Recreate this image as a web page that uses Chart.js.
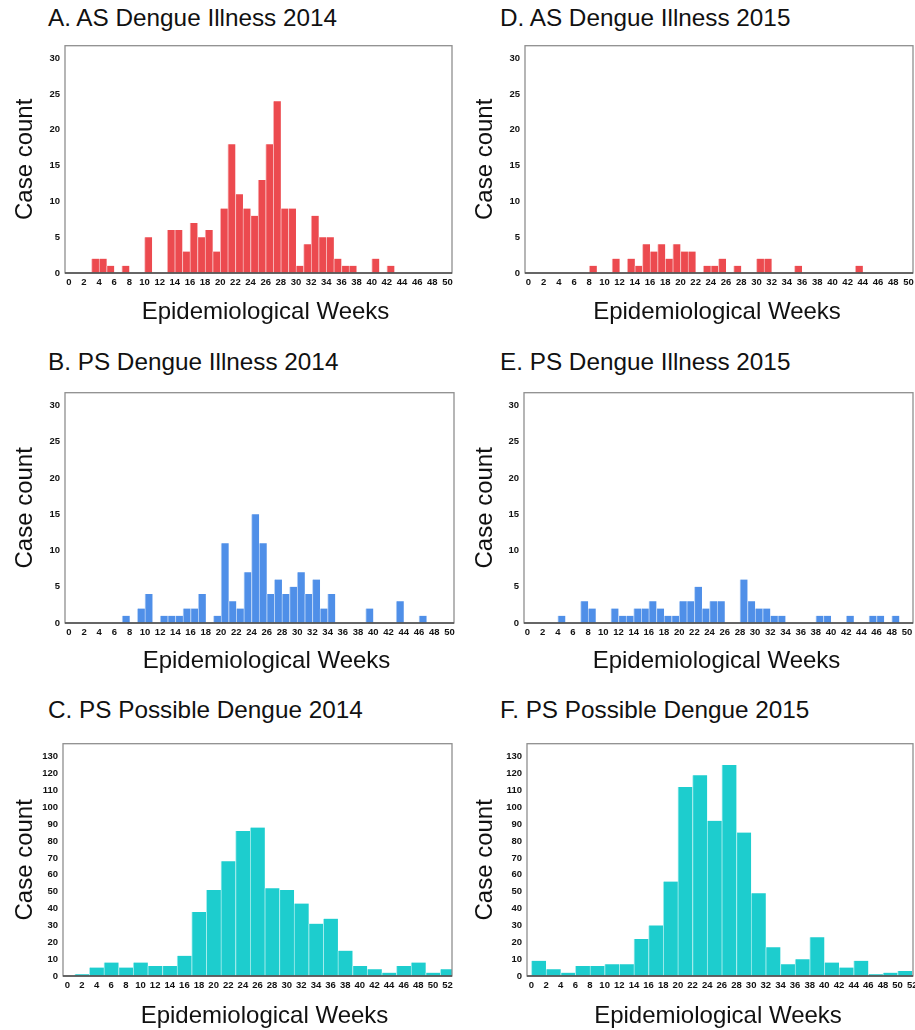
<!DOCTYPE html>
<html>
<head>
<meta charset="utf-8">
<script src="https://cdn.jsdelivr.net/npm/chart.js@4.4.0/dist/chart.umd.min.js"></script>
<style>
html, body { margin: 0; padding: 0; background: #fff; }
body { position: relative; width: 915px; height: 1030px; overflow: hidden; }
canvas { position: absolute; }
.ttl { position: absolute; font-family: "Liberation Sans", Arial, sans-serif; font-size: 24.3px;
       line-height: 28px; color: #111; white-space: nowrap; }
</style>
</head>
<body>
<script>
// weekly bins: bar i spans week i .. i+1
const weekStarts = [0,1,2,3,4,5,6,7,8,9,10,11,12,13,14,15,16,17,18,19,20,21,22,23,24,
  25,26,27,28,29,30,31,32,33,34,35,36,37,38,39,40,41,42,43,44,45,46,47,48,49];

const asIllness2014 = [0,0,0,2,2,1,0,1,0,0, 5,0,0,6,6,3,7,5,6,3, 9,18,11,9,8,13,18,24,9,9,
  1,4,8,5,5,2,1,1,0,0, 2,0,1,0,0,0,0,0,0,0];
const asIllness2015 = [0,0,0,0,0,0,0,0,1,0, 0,2,0,2,1,4,3,4,2,4, 3,3,0,1,1,2,0,1,0,0,
  2,2,0,0,0,1,0,0,0,0, 0,0,0,1,0,0,0,0,0,0];
const psIllness2014 = [0,0,0,0,0,0,0,1,0,2, 4,0,1,1,1,2,2,4,0,1, 11,3,2,7,15,11,4,6,4,5,
  7,4,6,2,4,0,0,0,0,2, 0,0,0,3,0,0,1,0,0,0];
const psIllness2015 = [0,0,0,0,1,0,0,3,2,0, 0,2,1,1,2,2,3,2,1,1, 3,3,5,2,3,3,0,0,6,3,
  2,2,1,1,0,0,0,0,1,1, 0,0,1,0,0,1,1,0,1,0];

// two-week bins, given by their centres
const possibleCentres2014 = [2,4,6,8,10,12,14,16,18,20,22,24,26,28,30,32,34,36,38,40,42,44,46,48,50,52];
const possible2014 = [1,5,8,5,8,6,6,12,38,51,68,86,88,52,51,43,31,34,15,6,4,2,6,8,2,4];
const possibleCentres2015 = [1,3,5,7,9,11,13,15,17,19,21,23,25,27,29,31,33,35,37,39,41,43,45,47,49,51];
const possible2015 = [9,4,2,6,6,7,7,22,30,56,112,119,92,125,85,49,17,7,10,23,8,5,9,1,2,3];

const RED = '#ec4a4f', BLUE = '#4f8fe8', TEAL = '#1dcdce';
const FONT = '"Liberation Sans", Arial, sans-serif';

const framePlugin = {
  id: 'frame',
  afterDatasetsDraw(chart) {
    const { ctx, chartArea: a } = chart;
    ctx.save();
    ctx.strokeStyle = '#8f8f8f';
    ctx.lineWidth = 1.3;
    ctx.strokeRect(a.left, a.top, a.right - a.left, a.bottom - a.top);
    ctx.strokeStyle = '#4d4d4d';
    ctx.lineWidth = 1.5;
    ctx.beginPath();
    ctx.moveTo(a.left, a.bottom);
    ctx.lineTo(a.right, a.bottom);
    ctx.stroke();
    ctx.restore();
  }
};

// x axis title, centred a little off the plot centre as in the figure
const xTitlePlugin = {
  id: 'xTitle',
  afterDraw(chart, args, opts) {
    const { ctx, chartArea: a } = chart;
    ctx.save();
    ctx.fillStyle = '#111';
    ctx.font = '24px ' + FONT;
    ctx.textAlign = 'center';
    ctx.textBaseline = 'middle';
    ctx.fillText(opts.text, (a.left + a.right) / 2 + opts.shift, opts.y);
    ctx.restore();
  }
};

function addTitle(text, x, y) {
  const d = document.createElement('div');
  d.className = 'ttl';
  d.style.left = x + 'px';
  d.style.top = y + 'px';
  d.textContent = text;
  document.body.appendChild(d);
}

function panel(p) {
  const cx = p.col === 0 ? 0 : 460;
  const cw = p.col === 0 ? 460 : 470;
  const cy = p.top - 8;
  const ch = p.xTitleY + 26 - cy;
  const yTitleX = p.col === 0 ? 25 : 485;

  const cv = document.createElement('canvas');
  cv.width = cw;
  cv.height = ch;
  cv.style.left = cx + 'px';
  cv.style.top = cy + 'px';
  cv.style.width = cw + 'px';
  cv.style.height = ch + 'px';
  document.body.appendChild(cv);

  new Chart(cv, {
    type: 'bar',
    data: {
      datasets: [{
        data: p.xs.map((x, i) => ({ x: x, y: p.ys[i] })),
        backgroundColor: p.color,
        borderColor: p.edge,
        borderWidth: { left: 1, right: 0, top: 0, bottom: 0 },
        borderSkipped: false,
        barPercentage: 1,
        categoryPercentage: 1,
        clip: 0
      }]
    },
    options: {
      responsive: false,
      animation: false,
      devicePixelRatio: 1,
      layout: { padding: { top: 8, left: 0, bottom: 0, right: cx + cw - p.right } },
      plugins: {
        legend: { display: false },
        tooltip: { enabled: false },
        xTitle: { text: 'Epidemiological Weeks', y: p.xTitleY + 1 - cy, shift: p.col === 0 ? 7 : -2 }
      },
      scales: {
        x: {
          type: 'linear',
          offset: false,
          min: p.xMin,
          max: p.xMax,
          grid: { display: false, drawTicks: false },
          border: { display: false },
          ticks: {
            stepSize: 2, includeBounds: false, autoSkip: false,
            maxRotation: 0, minRotation: 0, padding: 4,
            color: '#111', font: { family: FONT, size: 9.5, weight: 'bold' }
          },
          afterFit(s) { s.height = cy + ch - p.bottom; }
        },
        y: {
          min: 0,
          max: p.yMax,
          grid: { display: false, drawTicks: false },
          border: { display: false },
          ticks: {
            stepSize: p.yStep, includeBounds: false, padding: 5,
            color: '#111', font: { family: FONT, size: 9.5, weight: 'bold' }
          },
          title: {
            display: true, text: 'Case count', color: '#111',
            font: { family: FONT, size: 24, lineHeight: 1.2 },
            padding: { top: yTitleX - cx - 14.4, bottom: 0 }
          },
          afterFit(s) { s.width = p.left - cx; }
        }
      }
    },
    plugins: [framePlugin, xTitlePlugin]
  });
}

const weekCentres = weekStarts.map(w => w + 0.5);

addTitle('A. AS Dengue Illness 2014', 48, 4);
addTitle('D. AS Dengue Illness 2015', 500, 4);
addTitle('B. PS Dengue Illness 2014', 48, 348);
addTitle('E. PS Dengue Illness 2015', 500, 348);
addTitle('C. PS Possible Dengue 2014', 48, 696);
addTitle('F. PS Possible Dengue 2015', 500, 696);

panel({ col: 0, left: 65, right: 452, top: 43, bottom: 273, xTitleY: 311,
  xs: weekCentres, ys: asIllness2014, color: RED, edge: '#f8b9bb',
  xMin: -0.5, xMax: 50.6, yMax: 31.75, yStep: 5 });
panel({ col: 1, left: 525, right: 913, top: 43, bottom: 273, xTitleY: 311,
  xs: weekCentres, ys: asIllness2015, color: RED, edge: '#f8b9bb',
  xMin: -0.45, xMax: 50.6, yMax: 31.75, yStep: 5 });
panel({ col: 0, left: 65, right: 454, top: 390, bottom: 623, xTitleY: 660,
  xs: weekCentres, ys: psIllness2014, color: BLUE, edge: '#b7d2f6',
  xMin: -0.5, xMax: 50.6, yMax: 31.77, yStep: 5 });
panel({ col: 1, left: 524, right: 913, top: 390, bottom: 623, xTitleY: 660,
  xs: weekCentres, ys: psIllness2015, color: BLUE, edge: '#b7d2f6',
  xMin: -0.45, xMax: 50.8, yMax: 31.77, yStep: 5 });
panel({ col: 0, left: 63, right: 452, top: 741, bottom: 976, xTitleY: 1015,
  xs: possibleCentres2014, ys: possible2014, color: TEAL, edge: '#a6eded',
  xMin: -0.6, xMax: 52.6, yMax: 137.7, yStep: 10 });
panel({ col: 1, left: 527, right: 913, top: 741, bottom: 976, xTitleY: 1015,
  xs: possibleCentres2015, ys: possible2015, color: TEAL, edge: '#a6eded',
  xMin: -0.6, xMax: 52.1, yMax: 137.7, yStep: 10 });
</script>
</body>
</html>
